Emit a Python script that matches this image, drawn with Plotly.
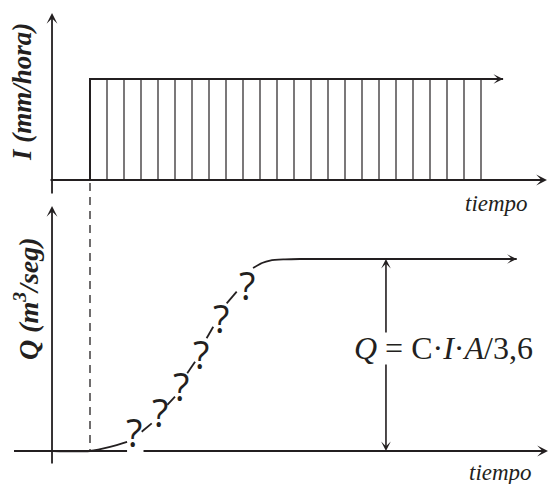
import plotly.graph_objects as go

# ---------------------------------------------------------------- data ----
# Hyetograph: constant rainfall intensity, drawn as one line per time step
rain_steps = list(range(24))            # start of each time step (t = 0 ... 23)
rain_intensity = [1.0] * 24             # normalized intensity I
rain_line_end = 24.3                    # the intensity line runs on to this time

# Hydrograph: discharge normalized so that the equilibrium value is 1.
# None breaks leave room for the "?" marks along the rising limb.
flow_t = [-2.2, 0.0, 1.18, 2.18, None, 3.04, 3.63, None, 4.55, 5.0, None,
          5.72, 6.18, None, 6.86, 7.25, None, 8.04, 8.63, None,
          9.59, 10.12, 10.59, 11.47, 12.35, 25.1]
flow_q = [0.0, 0.0, 0.021, 0.047, None, 0.10, 0.144, None, 0.24, 0.283, None,
          0.405, 0.465, None, 0.587, 0.647, None, 0.769, 0.83, None,
          0.953, 0.979, 0.992, 0.998, 1.0, 1.0]

# Points of the rising limb whose value is not known
unknown_t = [2.56, 4.10, 5.35, 6.50, 7.68, 9.21]
unknown_q = [0.099, 0.205, 0.339, 0.503, 0.693, 0.865]

q_equilibrium = 1.0
q_dim_t = 17.41                         # time where Q = C·I·A/3,6 is dimensioned

# ------------------------------------------------------------- layout ----
W, H = 550, 484
INK = "#231f20"
SERIF = "Liberation Serif"

PX_PER_T, T0_PX = 17.0, 90.0
x_range = [-T0_PX / PX_PER_T, (W - T0_PX) / PX_PER_T]
I0_PX, PX_PER_I = 180.0, 101.0
i_range = [-(H - I0_PX) / PX_PER_I, I0_PX / PX_PER_I]
Q0_PX, PX_PER_Q = 451.0, 192.0
q_range = [-(H - Q0_PX) / PX_PER_Q, Q0_PX / PX_PER_Q]


def paper_i(v):
    return (v - i_range[0]) / (i_range[1] - i_range[0])


def paper_q(v):
    return (v - q_range[0]) / (q_range[1] - q_range[0])


AXIS_T = -2.235                         # time position of both vertical axes

fig = go.Figure()

# inner step lines of the hyetograph
bx, by = [], []
for t, i in zip(rain_steps[1:], rain_intensity[1:]):
    bx += [t, t, None]
    by += [0, i, None]
fig.add_trace(go.Scatter(x=bx, y=by, mode="lines", yaxis="y",
                         line=dict(color=INK, width=1.2), hoverinfo="skip"))
# rising edge and top of the rain block
fig.add_trace(go.Scatter(x=[rain_steps[0], rain_steps[0], rain_line_end],
                         y=[0, rain_intensity[0], rain_intensity[-1]],
                         mode="lines", yaxis="y",
                         line=dict(color=INK, width=2), hoverinfo="skip"))

# hydrograph
fig.add_trace(go.Scatter(x=flow_t, y=flow_q, mode="lines", yaxis="y2",
                         connectgaps=False,
                         line=dict(color=INK, width=1.8, shape="spline",
                                   smoothing=0.8),
                         hoverinfo="skip"))

ann = []


def arrow(x0, y0, x1, y1, yref, width=1.8, size=1.0, side="end"):
    ann.append(dict(x=x1, y=y1, ax=x0, ay=y0, xref="x", yref=yref,
                    axref="x", ayref=yref, text="", showarrow=True,
                    arrowhead=3, startarrowhead=3, arrowside=side,
                    arrowsize=size, startarrowsize=size,
                    arrowwidth=width, arrowcolor=INK, standoff=0,
                    startstandoff=0))


# axes of the intensity panel
arrow(AXIS_T, -0.149, AXIS_T, 1.653, "y")
arrow(-2.41, 0, 26.88, 0, "y")
# axes of the discharge panel
arrow(AXIS_T, -0.073, AXIS_T, 1.276, "y2")
arrow(3.06, 0, 26.94, 0, "y2")
# arrow tips of the data lines
arrow(rain_steps[-1], rain_intensity[-1], rain_line_end, rain_intensity[-1],
      "y", width=1.6)
arrow(flow_t[-2], flow_q[-1], flow_t[-1], flow_q[-1], "y2", width=1.6)
# dimension line of the equilibrium discharge (split around the formula)
arrow(q_dim_t, 0.609, q_dim_t, q_equilibrium, "y2", width=1.6)
arrow(q_dim_t, 0.458, q_dim_t, 0, "y2", width=1.6)

shapes = [
    # left piece of the time axis of the discharge panel
    dict(type="line", xref="x", yref="y2", x0=-4.47, x1=2.18, y0=0, y1=0,
         line=dict(color=INK, width=1.8)),
    # start of the rain carried down to the hydrograph
    dict(type="line", xref="x", yref="paper", x0=rain_steps[0],
         x1=rain_steps[0], y0=paper_i(-0.03), y1=paper_q(0),
         line=dict(color=INK, width=1.3, dash="8px,6px")),
]

# unknown values along the rising limb
for t, q in zip(unknown_t, unknown_q):
    ann.append(dict(x=t, y=q, xref="x", yref="y2", text="?", showarrow=False,
                    xanchor="center", yanchor="middle",
                    font=dict(family="Open Sans", size=38, color=INK)))

# labels
ann += [
    dict(x=22 / W, y=1 - 92 / H, xref="paper", yref="paper",
         xanchor="center", yanchor="middle",
         text="I (mm/hora)", showarrow=False, textangle=-90,
         font=dict(family=SERIF, size=27, color=INK, style="italic",
                   weight="bold")),
    dict(x=26 / W, y=1 - 299 / H, xref="paper", yref="paper",
         xanchor="center", yanchor="middle",
         text="Q (m<sup>3</sup>/seg)", showarrow=False, textangle=-90,
         font=dict(family=SERIF, size=28, color=INK, style="italic",
                   weight="bold")),
    dict(x=23.94, y=-0.228, xref="x", yref="y", text="tiempo",
         xanchor="center", yanchor="middle", showarrow=False,
         font=dict(family=SERIF, size=23, color=INK, style="italic")),
    dict(x=24.12, y=-0.11, xref="x", yref="y2", text="tiempo",
         xanchor="center", yanchor="middle", showarrow=False,
         font=dict(family=SERIF, size=23, color=INK, style="italic")),
    dict(x=20.82, y=0.536, xref="x", yref="y2",
         xanchor="center", yanchor="middle",
         text="<i>Q</i> = C·<i>I</i>·<i>A</i>/3,6", showarrow=False,
         font=dict(family=SERIF, size=32, color=INK)),
]

fig.update_layout(
    width=W, height=H, margin=dict(l=0, r=0, t=0, b=0),
    paper_bgcolor="white", plot_bgcolor="white", showlegend=False,
    xaxis=dict(range=x_range, visible=False, domain=[0, 1]),
    yaxis=dict(range=i_range, visible=False, domain=[0, 1]),
    yaxis2=dict(range=q_range, visible=False, overlaying="y"),
    annotations=ann, shapes=shapes,
)

fig.write_html("out.html")
